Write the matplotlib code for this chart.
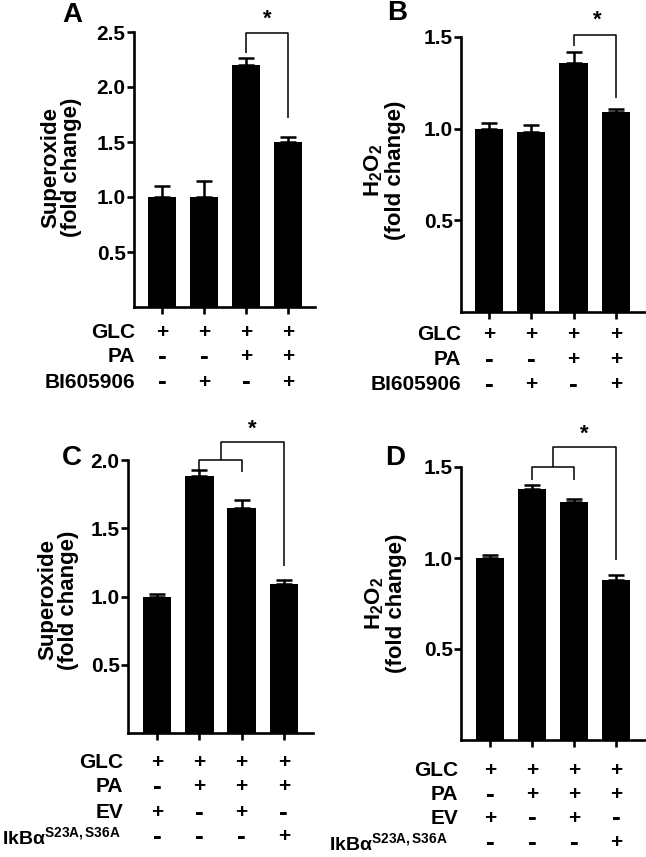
import matplotlib
matplotlib.use("Agg")
import matplotlib.pyplot as plt
import matplotlib.transforms as mtransforms

plt.rcParams['font.family'] = ['Liberation Sans', 'DejaVu Sans']
plt.rcParams['font.weight'] = 'bold'
plt.rcParams['mathtext.fontset'] = 'custom'
plt.rcParams['mathtext.rm'] = 'Liberation Sans:bold'
plt.rcParams['mathtext.bf'] = 'Liberation Sans:bold'
plt.rcParams['mathtext.it'] = 'Liberation Sans:bold'
plt.rcParams['mathtext.default'] = 'rm'

# data
a_vals = [1.00, 1.00, 2.20, 1.50]
a_err = [0.10, 0.15, 0.06, 0.05]
b_vals = [1.00, 0.98, 1.36, 1.09]
b_err = [0.03, 0.04, 0.06, 0.02]
c_vals = [1.00, 1.88, 1.65, 1.09]
c_err = [0.02, 0.05, 0.06, 0.03]
d_vals = [1.00, 1.38, 1.31, 0.88]
d_err = [0.015, 0.02, 0.015, 0.025]

ab_rows = ['GLC', 'PA', 'BI605906']
ab_table = [['+', '+', '+', '+'],
            ['-', '-', '+', '+'],
            ['-', '+', '-', '+']]
cd_rows = ['GLC', 'PA', 'EV', r'IkBα$^{S23A,S36A}$']
cd_table = [['+', '+', '+', '+'],
            ['-', '+', '+', '+'],
            ['+', '-', '+', '-'],
            ['-', '-', '-', '+']]

W, H = 646, 857
fig = plt.figure(figsize=(W / 100, H / 100), dpi=100)


def px_axes(left, right, top, bottom):
    return fig.add_axes([left / W, 1 - bottom / H, (right - left) / W, (bottom - top) / H])


def bar_panel(ax, vals, errs, ymax, yticks, xlim):
    x = range(len(vals))
    ax.bar(x, vals, width=0.67, color='black', edgecolor='none', zorder=2)
    ax.errorbar(x, vals, yerr=[[0] * len(vals), errs], fmt='none', ecolor='black',
                elinewidth=1.8, capsize=5.5, capthick=1.8, zorder=1)
    ax.set_ylim(0, ymax)
    ax.set_xlim(*xlim)
    ax.set_yticks(yticks)
    ax.set_yticklabels(['%.1f' % t for t in yticks], fontsize=15, fontweight='bold')
    ax.set_xticks(list(x))
    ax.set_xticklabels([])
    for s in ['top', 'right']:
        ax.spines[s].set_visible(False)
    for s in ['left', 'bottom']:
        ax.spines[s].set_linewidth(1.9)
    ax.tick_params(axis='both', width=1.9, length=5, pad=1)
    ax.patch.set_alpha(0)


def table(ax, rows, tbl, ys, label_x, last_x):
    tr = mtransforms.blended_transform_factory(ax.transData, fig.transFigure)
    for r, name in enumerate(rows):
        y = 1 - ys[r] / H
        lx, fs = label_x, 15
        if name.startswith('IkB'):
            lx, fs = last_x, 14
        fig.text(lx / W, y, name, ha='right', va='center', fontsize=fs, fontweight='bold')
        for i, s in enumerate(tbl[r]):
            ax.text(i, y, s, transform=tr, ha='center', va='center',
                    fontsize=19 if s == '-' else 15, fontweight='bold', clip_on=False)


def line(ax, xs, ys):
    ax.plot(xs, ys, color='black', lw=1.1, clip_on=False, solid_capstyle='butt')


# panel A
axA = px_axes(134, 315, 32, 307)
bar_panel(axA, a_vals, a_err, 2.5, [0.5, 1.0, 1.5, 2.0, 2.5], (-0.667, 3.64))
line(axA, [2, 2, 3, 3], [2.31, 2.49, 2.49, 1.72])
axA.text(2.5, 2.52, '*', ha='center', va='bottom', fontsize=16, fontweight='bold')
table(axA, ab_rows, ab_table, [332, 357, 382], 135, 135)

# panel B
axB = px_axes(461, 646, 37, 312)
bar_panel(axB, b_vals, b_err, 1.5, [0.5, 1.0, 1.5], (-0.66, 3.71))
line(axB, [2, 2, 3, 3], [1.45, 1.51, 1.51, 1.17])
axB.text(2.55, 1.535, '*', ha='center', va='bottom', fontsize=16, fontweight='bold')
table(axB, ab_rows, ab_table, [335, 360, 385], 461, 461)

# panel C
axC = px_axes(128, 313, 460, 733)
bar_panel(axC, c_vals, c_err, 2.0, [0.5, 1.0, 1.5, 2.0], (-0.69, 3.69))
line(axC, [1, 1, 2, 2], [1.91, 2.0, 2.0, 1.91])
line(axC, [1.5, 1.5, 3, 3], [2.0, 2.13, 2.13, 1.22])
axC.text(2.25, 2.15, '*', ha='center', va='bottom', fontsize=16, fontweight='bold')
table(axC, cd_rows, cd_table, [762, 787, 813, 837], 123, 121)

# panel D
axD = px_axes(461, 646, 467, 740)
bar_panel(axD, d_vals, d_err, 1.5, [0.5, 1.0, 1.5], (-0.69, 3.71))
line(axD, [1, 1, 2, 2], [1.43, 1.5, 1.5, 1.43])
line(axD, [1.5, 1.5, 3, 3], [1.5, 1.61, 1.61, 0.99])
axD.text(2.25, 1.625, '*', ha='center', va='bottom', fontsize=16, fontweight='bold')
table(axD, cd_rows, cd_table, [770, 795, 818, 843], 458, 448)

# y labels
ylab_kw = dict(rotation=90, ha='center', va='center', multialignment='center',
               fontsize=16, fontweight='bold', linespacing=1.0)
fig.text(61 / W, 1 - 167 / H, 'Superoxide\n(fold change)', **ylab_kw)
fig.text(384 / W, 1 - 170 / H, 'H$_2$O$_2$\n(fold change)', **ylab_kw)
fig.text(58 / W, 1 - 600 / H, 'Superoxide\n(fold change)', **ylab_kw)
fig.text(385 / W, 1 - 603 / H, 'H$_2$O$_2$\n(fold change)', **ylab_kw)

# panel letters
for lab, x, y in [('A', 72, 15), ('B', 397, 13), ('C', 72, 458), ('D', 395, 458)]:
    fig.text(x / W, 1 - y / H, lab, ha='center', va='center', fontsize=20, fontweight='bold')

fig.savefig('out.png', dpi=100)
